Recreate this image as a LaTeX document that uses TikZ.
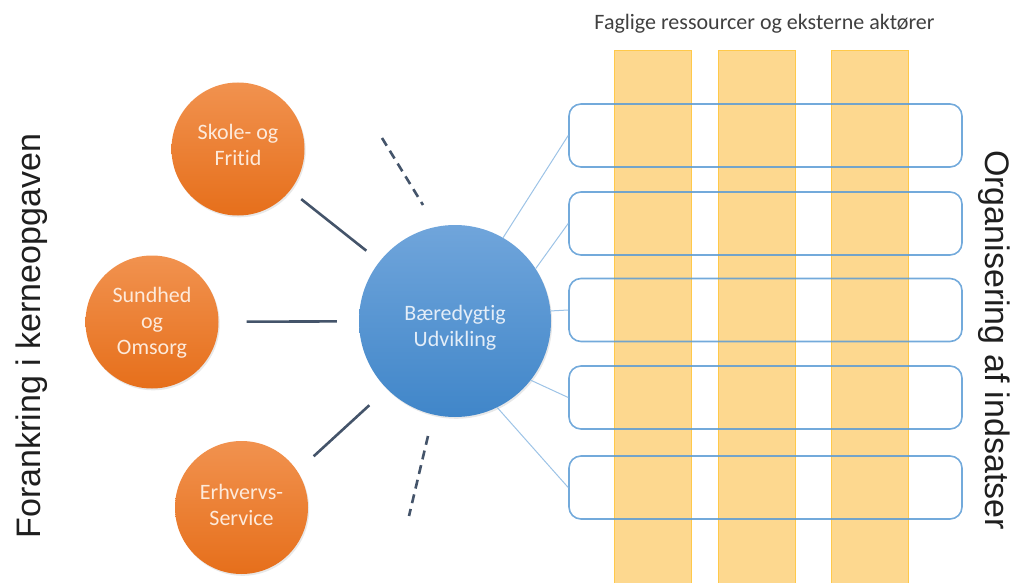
\documentclass[tikz,border=0pt]{standalone}
\usepackage{fontspec}
\setmainfont{Carlito}[Ligatures=NoCommon]
\newfontfamily\sidefont{Liberation Sans}
\usetikzlibrary{shadows}
\definecolor{orangetop}{HTML}{F1924F}
\definecolor{orangebot}{HTML}{E66F1B}
\definecolor{bluetop}{HTML}{70A5DB}
\definecolor{bluebot}{HTML}{4086C9}
\definecolor{darkline}{HTML}{44546A}
\definecolor{lightconn}{HTML}{9DC3E6}
\definecolor{boxedge}{HTML}{5B9BD5}
\definecolor{colfill}{HTML}{FDD88F}
\definecolor{coledge}{HTML}{FFC94A}
\definecolor{titlegray}{HTML}{404040}
\definecolor{orangetext}{HTML}{FDEADB}
\definecolor{bluetext}{HTML}{E3EDF8}
\begin{document}
\begin{tikzpicture}[x=1pt,y=-1pt,
  softshadow/.style={drop shadow={opacity=0.18,shadow xshift=1.2pt,shadow yshift=-1.8pt}},
  topic/.style={circle,minimum size=133pt,inner sep=0pt,top color=orangetop,bottom color=orangebot,softshadow},
  hub/.style={circle,minimum size=192pt,inner sep=0pt,top color=bluetop,bottom color=bluebot,softshadow},
  topictext/.style={align=center,inner sep=0pt,text=orangetext,font=\fontsize{22}{26}\selectfont},
  hubtext/.style={align=center,inner sep=0pt,text=bluetext,font=\fontsize{22}{26}\selectfont},
  slot/.style={rectangle,rounded corners=12pt,minimum width=393pt,minimum height=63pt,inner sep=0pt,
    draw=boxedge,draw opacity=0.85,line width=1.6pt},
  column/.style={rectangle,minimum width=77pt,minimum height=533pt,inner sep=0pt,anchor=north,
    fill=colfill,draw=coledge,line width=0.8pt},
  spoke/.style={draw=darkline,line width=2.6pt},
  dashspoke/.style={draw=darkline,line width=2.6pt,dash pattern=on 9pt off 6pt},
  conn/.style={draw=lightconn,line width=1pt},
  sidetext/.style={font=\sidefont\fontsize{34}{40}\selectfont,text=black!88,anchor=base,inner sep=0pt}
]
\useasboundingbox (0,0) rectangle (1017,583);

% columns
\node[column] (c1) at (652.5,50) {};
\node[column] (c2) at (757,50) {};
\node[column] (c3) at (870,50) {};

% title
\node[anchor=base,inner sep=0pt,text=titlegray,font=\fontsize{22}{26}\selectfont] (title) at (764.5,30) {Faglige ressourcer og eksterne aktører};

% boxes
\node[slot] (b1) at (765.5,135.5) {};
\node[slot] (b2) at (765.5,223.5) {};
\node[slot] (b3) at (765.5,310) {};
\node[slot] (b4) at (765.5,397.5) {};
\node[slot] (b5) at (765.5,487.5) {};

% circles
\node[hub] (hub) at (455,321) {};
\node[topic] (skole) at (238,149) {};
\node[topic] (sund) at (152,322) {};
\node[topic] (erhv) at (241.5,507.5) {};

% circle texts
\node[hubtext] (hubT) at (455,327.5) {Bæredygtig\\Udvikling};
\node[topictext] (skoleT) at (238,144.5) {Skole- og\\Fritid};
\node[topictext] (sundT) at (152,323) {Sundhed\\og\\Omsorg};
\node[topictext] (erhvT) at (241.5,505) {Erhvervs-\\Service};

% connectors to boxes
\draw[conn] (hub.60) -- (b1.west);
\draw[conn] (hub.33) -- (b2.west);
\draw[conn] (hub.6) -- (b3.west);
\draw[conn] (hub.-38) -- (b4.west);
\draw[conn] (hub.-64) -- (b5.west);

% spokes
\draw[spoke,shorten <=14pt,shorten >=17pt] (skole) -- (hub);
\draw[spoke,shorten <=28pt,shorten >=22pt] (sund) -- (hub);
\draw[spoke,shorten <=22pt,shorten >=24pt] (erhv.33) -- (hub.225);

% dashed spokes
\coordinate (d1a) at (382,138);
\coordinate (d1b) at (423,205);
\coordinate (d2a) at (428,436);
\coordinate (d2b) at (409,516);
\draw[dashspoke] (d1a) -- (d1b);
\draw[dashspoke] (d2a) -- (d2b);

% side texts
\node[sidetext,rotate=90] (left) at (40,336) {Forankring i kerneopgaven};
\node[sidetext,rotate=-90] (right) at (985,340) {Organisering af indsatser};
\end{tikzpicture}
\end{document}
